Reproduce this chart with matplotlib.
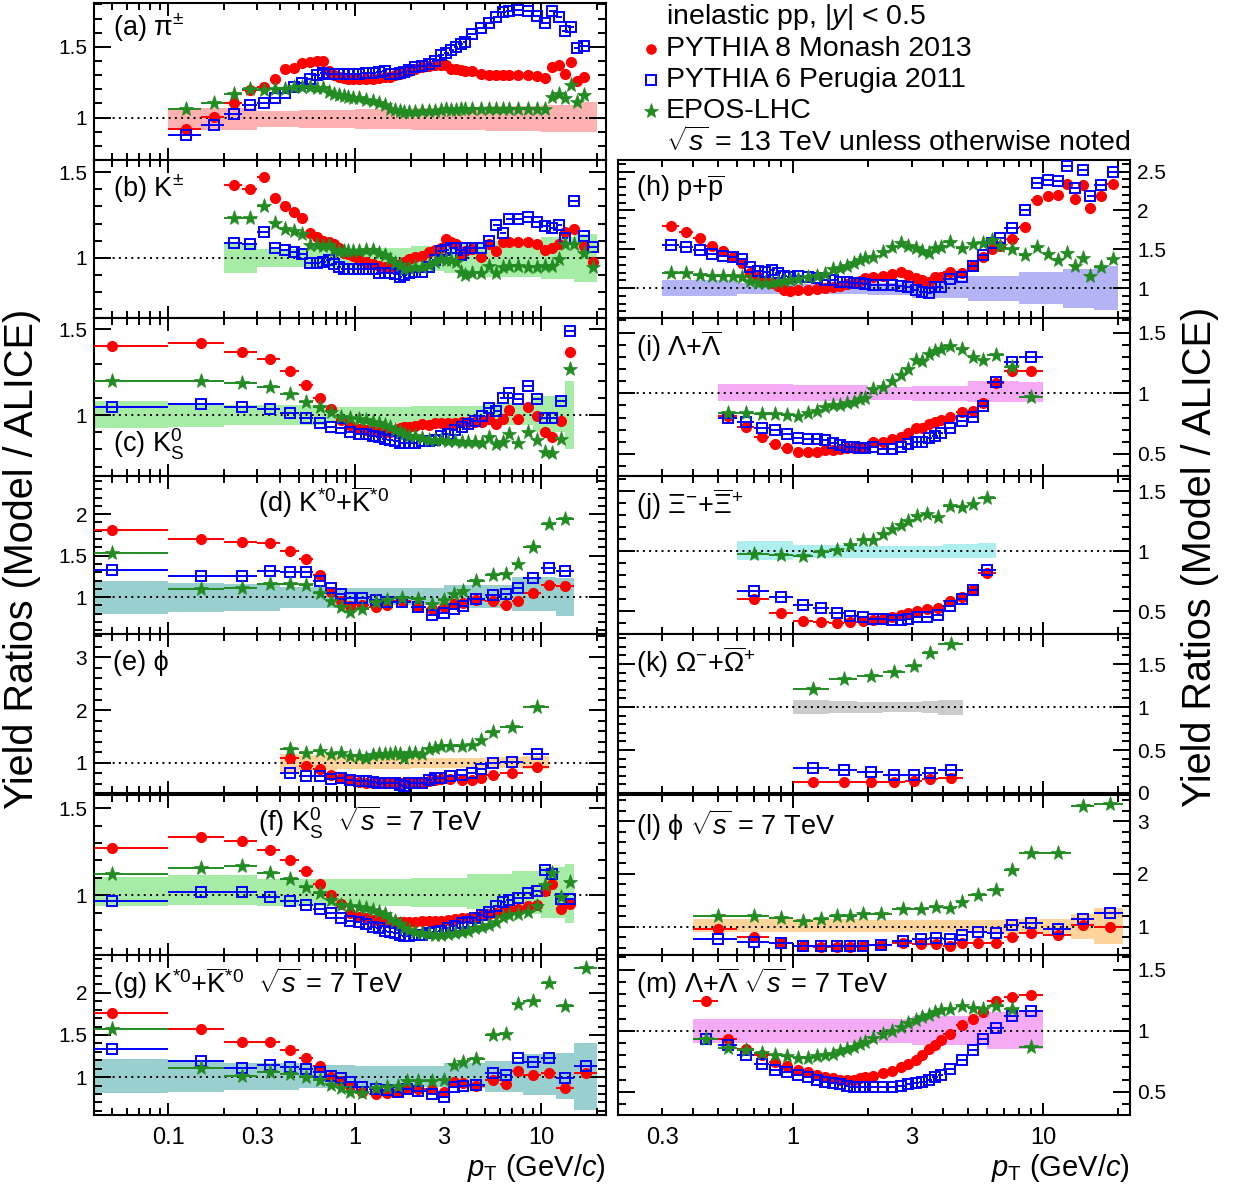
import numpy as np
import matplotlib
matplotlib.use("Agg")
import matplotlib.pyplot as plt
from matplotlib.ticker import MultipleLocator, FixedLocator, FuncFormatter, LogLocator
from matplotlib.lines import Line2D

plt.rcParams['font.family'] = ['Liberation Sans', 'DejaVu Sans']
plt.rcParams['mathtext.fontset'] = 'custom'
plt.rcParams['mathtext.rm'] = 'Liberation Sans'
plt.rcParams['mathtext.it'] = 'Liberation Sans:italic'
plt.rcParams['mathtext.bf'] = 'Liberation Sans:bold'
plt.rcParams['mathtext.sf'] = 'Liberation Sans'

RED, BLUE, GREEN = '#ff0000', '#0000ff', '#228b22'

# ---------------- data (ratio model / ALICE) ----------------
# (a) pi+-
a_edges = [0.1, 0.15, 0.2, 0.25, 0.3, 0.35, 0.4, 0.45, 0.5, 0.55, 0.6, 0.65, 0.7, 0.75, 0.8, 0.85, 0.9, 0.95, 1.0,
           1.1, 1.2, 1.3, 1.4, 1.5, 1.6, 1.7, 1.8, 1.9, 2.0,
           2.2, 2.4, 2.6, 2.8, 3.0, 3.2, 3.4, 3.6, 3.8, 4.0,
           4.5, 5.0, 5.5, 6.0, 6.5, 7.0,
           8, 9, 10, 11, 12, 13, 14, 15, 16, 18]
a_py8 = [0.918, 1.005, 1.10, 1.195, 1.218, 1.275, 1.345, 1.35, 1.383, 1.39, 1.40, 1.397, 1.33, 1.30, 1.29, 1.28, 1.275, 1.27,
         1.27, 1.27, 1.275, 1.28, 1.285, 1.29, 1.30, 1.31, 1.32, 1.33,
         1.345, 1.355, 1.365, 1.37, 1.375, 1.37, 1.345, 1.34, 1.335, 1.33,
         1.33, 1.305, 1.30, 1.30, 1.30, 1.30,
         1.30, 1.30, 1.295, 1.28, 1.36, 1.375, 1.31, 1.39, 1.26, 1.29]
a_py6 = [0.88, 0.946, 1.023, 1.087, 1.10, 1.14, 1.176, 1.218, 1.246, 1.275, 1.298, 1.312, 1.305, 1.305, 1.307, 1.308, 1.31, 1.31,
         1.31, 1.315, 1.318, 1.322, 1.326, 1.305, 1.31, 1.318, 1.325, 1.335,
         1.355, 1.365, 1.38, 1.40, 1.44, 1.46, 1.48, 1.50, 1.52, 1.535,
         1.59, 1.63, 1.67, 1.71, 1.745, 1.752,
         1.758, 1.75, 1.72, 1.67, 1.75, 1.71, 1.61, 1.64, 1.49, 1.505]
a_epos = [1.059, 1.106, 1.169, 1.204, 1.195, 1.204, 1.205, 1.218, 1.216, 1.213, 1.211, 1.21, 1.18, 1.17, 1.16, 1.15, 1.145, 1.14,
          1.135, 1.125, 1.117, 1.105, 1.09, 1.06, 1.05, 1.045, 1.04, 1.04,
          1.042, 1.045, 1.043, 1.045, 1.05, 1.06, 1.055, 1.057, 1.06, 1.062,
          1.063, 1.06, 1.06, 1.06, 1.06, 1.058,
          1.06, 1.06, 1.06, 1.06, 1.148, 1.164, 1.136, 1.23, 1.11, 1.157]
a_band_edges = [0.1, 0.3, 0.5, 1, 2, 3, 5, 10, 15, 20]
a_band_lo = [0.913, 0.93, 0.925, 0.92, 0.915, 0.91, 0.905, 0.90, 0.895]
a_band_hi = [1.07, 1.048, 1.05, 1.06, 1.07, 1.075, 1.08, 1.09, 1.11]

# (b) K+-
b_edges = [0.2, 0.25, 0.3, 0.35, 0.4, 0.45, 0.5, 0.55, 0.6, 0.65, 0.7, 0.75, 0.8, 0.85, 0.9, 0.95, 1.0,
           1.1, 1.2, 1.3, 1.4, 1.5, 1.6, 1.7, 1.8, 1.9, 2.0,
           2.2, 2.4, 2.6, 2.8, 3.0, 3.2, 3.4, 3.6, 3.8, 4.0,
           4.5, 5.0, 5.5, 6.0, 6.5, 7.0,
           8, 9, 10, 11, 12, 13, 14, 16, 18, 20]
b_py8 = [1.423, 1.40, 1.473, 1.346, 1.304, 1.27, 1.23, 1.146, 1.121, 1.10, 1.092, 1.083, 1.06, 1.03, 1.02, 1.01,
         0.99, 0.977, 0.965, 0.952, 0.948, 0.944, 0.955, 0.967, 0.977, 0.996,
         1.006, 1.01, 1.035, 1.048, 1.06, 1.11, 1.095, 1.083, 1.015, 1.04,
         1.054, 1.006, 1.079, 1.04, 1.092, 1.09,
         1.09, 1.09, 1.083, 1.044, 1.06, 1.079, 1.15, 1.17, 1.067, 0.977]
b_py6 = [1.087, 1.083, 1.15, 1.06, 1.044, 1.035, 1.025, 0.971, 0.973, 0.975, 0.99, 0.963, 0.948, 0.938, 0.938, 0.938,
         0.938, 0.938, 0.938, 0.91, 0.91, 0.91, 0.905, 0.887, 0.90, 0.91,
         0.919, 0.919, 0.948, 0.987, 1.04, 1.045, 1.06, 1.06, 1.015, 1.06,
         1.06, 1.06, 1.10, 1.194, 1.144, 1.225,
         1.225, 1.24, 1.208, 1.185, 1.173, 1.194, 1.115, 1.333, 1.13, 1.063]
b_epos = [1.23, 1.233, 1.30, 1.202, 1.17, 1.156, 1.137, 1.073, 1.073, 1.07, 1.073, 1.044, 1.04, 1.04, 1.04, 1.04,
          1.04, 1.045, 1.048, 1.03, 1.015, 0.996, 0.97, 0.958, 0.938, 0.94,
          0.948, 0.948, 0.958, 0.977, 0.996, 0.99, 0.985, 0.977, 0.919, 0.90,
          0.91, 0.91, 0.952, 0.91, 0.948, 0.952,
          0.95, 0.948, 0.948, 0.952, 0.952, 0.996, 1.083, 1.083, 1.029, 0.948]
b_band_edges = [0.2, 0.3, 0.5, 1, 2, 3, 5, 10, 15, 20]
b_band_lo = [0.913, 0.948, 0.945, 0.94, 0.925, 0.91, 0.89, 0.875, 0.86]
b_band_hi = [1.087, 1.05, 1.05, 1.06, 1.07, 1.08, 1.10, 1.12, 1.14]

# (c) K0S 13 TeV and (f) K0S 7 TeV share binning
c_edges = [0, 0.1, 0.2, 0.3, 0.4, 0.5, 0.6, 0.7, 0.8, 0.9, 1.0, 1.1, 1.2, 1.3, 1.4, 1.5, 1.6, 1.7, 1.8, 1.9, 2.0,
           2.2, 2.4, 2.6, 2.8, 3.0, 3.3, 3.6, 3.9, 4.2, 4.6, 5.0, 5.5, 6.0, 6.5, 7.0,
           8.0, 9.0, 10, 11, 12, 13.5, 15]
c_py8 = [1.40, 1.42, 1.367, 1.327, 1.256, 1.173, 1.098, 1.035, 0.971, 0.94,
         0.919, 0.915, 0.905, 0.90, 0.90, 0.902, 0.908, 0.923, 0.928, 0.933,
         0.935, 0.948, 0.94, 0.952, 0.956, 0.952, 0.952, 0.958, 0.96, 0.958, 0.96,
         0.975, 0.95, 0.975, 1.03, 0.977, 1.048, 0.992, 0.90, 0.871, 0.967, 1.367]
c_py6 = [1.044, 1.067, 1.044, 1.035, 1.01, 0.983, 0.956, 0.929, 0.925, 0.904,
         0.89, 0.888, 0.88, 0.871, 0.862, 0.852, 0.85, 0.837, 0.837, 0.837,
         0.84, 0.848, 0.848, 0.852, 0.875, 0.89, 0.91, 0.933, 0.948, 0.968, 0.992,
         1.04, 1.021, 1.10, 1.13, 1.092, 1.17, 1.092, 0.983, 0.983, 1.079, 1.487]
c_epos = [1.198, 1.198, 1.188, 1.163, 1.121, 1.077, 1.044, 1.015, 0.99, 0.983,
          0.978, 0.97, 0.962, 0.955, 0.94, 0.929, 0.915, 0.90, 0.89, 0.88,
          0.875, 0.865, 0.856, 0.852, 0.852, 0.848, 0.848, 0.842, 0.842, 0.842, 0.837,
          0.871, 0.833, 0.845, 0.887, 0.84, 0.9, 0.856, 0.785, 0.779, 0.862, 1.27]
c_band_edges = [0, 0.1, 0.2, 0.7, 2, 5, 9, 13.5, 15]
c_band_lo = [0.923, 0.929, 0.94, 0.955, 0.952, 0.94, 0.90, 0.804]
c_band_hi = [1.079, 1.067, 1.06, 1.045, 1.05, 1.07, 1.11, 1.198]

# (d) K*0 13 TeV
d_edges = [0, 0.1, 0.2, 0.3, 0.4, 0.5, 0.6, 0.7, 0.8, 0.9, 1.0, 1.2, 1.4, 1.6, 2.0, 2.4, 2.8, 3.2, 3.6, 4.0,
           5.0, 6.0, 7.0, 8.0, 10, 12, 15]
d_py8 = [1.814, 1.698, 1.659, 1.655, 1.558, 1.457, 1.267, 1.066, 0.95, 0.89, 0.9, 0.884, 0.9, 0.95, 0.884,
         0.853, 0.884, 0.92, 0.93, 0.969, 0.957, 0.91, 0.957, 1.054, 1.143, 1.132]
d_py6 = [1.326, 1.256, 1.26, 1.31, 1.298, 1.298, 1.2, 1.105, 1.039, 0.988, 0.984, 0.96, 0.946, 0.938, 0.884,
         0.783, 0.814, 0.853, 0.89, 0.977, 1.027, 1.035, 1.105, 1.229, 1.349, 1.318]
d_epos = [1.531, 1.093, 1.105, 1.155, 1.155, 1.143, 1.054, 0.95, 0.884, 0.822, 0.86, 0.938, 0.96, 0.988, 0.977,
          0.922, 0.96, 1.039, 1.078, 1.194, 1.271, 1.279, 1.395, 1.609, 1.88, 1.938]
d_band_edges = [0, 0.1, 0.2, 0.4, 0.8, 3, 7, 12, 15]
d_band_lo = [0.80, 0.82, 0.833, 0.872, 0.9, 0.872, 0.833, 0.775]
d_band_hi = [1.20, 1.175, 1.155, 1.124, 1.105, 1.143, 1.24, 1.233]

# (e) phi 13 TeV
e_edges = [0.4, 0.5, 0.6, 0.7, 0.8, 0.9, 1.0, 1.1, 1.2, 1.3, 1.4, 1.5, 1.6, 1.7, 1.8, 1.9, 2.0,
           2.2, 2.4, 2.6, 2.8, 3.0, 3.5, 4.0, 4.5, 5.0, 6.0, 8.0, 11]
e_py8 = [1.10, 0.943, 0.88, 0.766, 0.72, 0.677, 0.64, 0.627, 0.627, 0.627, 0.627, 0.627, 0.615, 0.627, 0.627,
         0.64, 0.64, 0.627, 0.658, 0.677, 0.69, 0.69, 0.677, 0.677, 0.72, 0.766, 0.816, 0.924]
e_py6 = [0.816, 0.753, 0.753, 0.703, 0.72, 0.677, 0.658, 0.658, 0.64, 0.627, 0.627, 0.627, 0.615, 0.576, 0.563,
         0.627, 0.627, 0.615, 0.677, 0.72, 0.72, 0.753, 0.766, 0.816, 0.892, 0.994, 1.019, 1.165]
e_epos = [1.272, 1.196, 1.228, 1.165, 1.196, 1.133, 1.133, 1.10, 1.145, 1.165, 1.165, 1.165, 1.18, 1.165, 1.10,
          1.196, 1.196, 1.165, 1.259, 1.291, 1.323, 1.323, 1.323, 1.335, 1.437, 1.576, 1.671, 2.05]
e_band_edges = [0.4, 0.5, 0.8, 2, 5, 8, 11]
e_band_lo = [0.83, 0.86, 0.89, 0.91, 0.9, 0.88]
e_band_hi = [1.17, 1.14, 1.11, 1.10, 1.11, 1.13]

# (f) K0S 7 TeV
f_py8 = [1.271, 1.333, 1.314, 1.262, 1.203, 1.14, 1.066, 1.0, 0.95, 0.897,
         0.878, 0.868, 0.859, 0.852, 0.845, 0.839, 0.839, 0.845, 0.849, 0.849,
         0.849, 0.852, 0.852, 0.852, 0.855, 0.859, 0.862, 0.868, 0.872, 0.878, 0.888,
         0.892, 0.897, 0.903, 0.917, 0.92, 0.936, 0.946, 1.027, 1.066, 0.922, 0.95]
f_py6 = [0.965, 1.019, 1.017, 0.988, 0.969, 0.946, 0.922, 0.897, 0.872, 0.853,
         0.845, 0.833, 0.82, 0.81, 0.795, 0.79, 0.781, 0.771, 0.767, 0.767,
         0.771, 0.771, 0.781, 0.79, 0.795, 0.81, 0.825, 0.839, 0.849, 0.868, 0.888,
         0.903, 0.936, 0.961, 0.975, 0.984, 1.014, 1.023, 1.145, 1.12, 0.981, 0.981]
f_epos = [1.12, 1.155, 1.169, 1.13, 1.091, 1.048, 1.014, 0.975, 0.946, 0.936,
          0.93, 0.925, 0.915, 0.905, 0.89, 0.865, 0.85, 0.835, 0.81, 0.8,
          0.79, 0.781, 0.775, 0.771, 0.771, 0.775, 0.781, 0.79, 0.795, 0.81, 0.82,
          0.83, 0.849, 0.878, 0.885, 0.89, 0.903, 0.936, 1.058, 1.13, 0.988, 1.078]
f_band_edges = [0, 0.1, 0.3, 1, 2, 4, 7, 10, 13.5, 15]
f_band_lo = [0.936, 0.942, 0.936, 0.94, 0.935, 0.92, 0.89, 0.868, 0.839]
f_band_hi = [1.105, 1.116, 1.091, 1.091, 1.10, 1.12, 1.14, 1.16, 1.178]

# (g) K*0 7 TeV
g_edges = [0, 0.1, 0.2, 0.3, 0.4, 0.5, 0.6, 0.7, 0.8, 0.9, 1.0, 1.2, 1.4, 1.6, 1.8, 2.0, 2.4, 2.8, 3.2, 3.6, 4.0,
           5.0, 6.0, 7.0, 8.0, 10, 12, 15, 20]
g_py8 = [1.766, 1.567, 1.413, 1.413, 1.321, 1.23, 1.135, 1.004, 0.952, 0.897, 0.825, 0.794, 0.806, 0.825, 0.865,
         0.857, 0.857, 0.825, 0.944, 0.925, 0.897, 0.964, 0.913, 1.071, 1.024, 1.052, 0.873, 1.044]
g_py6 = [1.333, 1.19, 1.103, 1.143, 1.123, 1.095, 1.063, 1.016, 0.984, 0.937, 0.885, 0.857, 0.845, 0.825, 0.857,
         0.837, 0.794, 0.766, 0.885, 0.897, 0.905, 1.044, 1.024, 1.222, 1.175, 1.23, 0.992, 1.135]
g_epos = [1.571, 1.103, 1.016, 1.056, 1.032, 0.996, 0.964, 0.905, 0.865, 0.825, 0.806, 0.865, 0.885, 0.897, 0.952,
          0.952, 0.952, 0.964, 1.143, 1.175, 1.214, 1.5, 1.508, 1.865, 1.905, 2.115, 1.849, 2.3]
g_band_edges = [0, 0.1, 0.2, 0.5, 1, 3, 5, 8, 12, 15, 20]
g_band_lo = [0.806, 0.825, 0.845, 0.865, 0.885, 0.865, 0.825, 0.786, 0.738, 0.607]
g_band_hi = [1.214, 1.175, 1.163, 1.143, 1.135, 1.163, 1.19, 1.28, 1.29, 1.4]

# (h) p + pbar
h_edges = [0.3, 0.35, 0.4, 0.45, 0.5, 0.55, 0.6, 0.65, 0.7, 0.75, 0.8, 0.85, 0.9, 0.95, 1.0,
           1.1, 1.2, 1.3, 1.4, 1.5, 1.6, 1.7, 1.8, 1.9, 2.0,
           2.2, 2.4, 2.6, 2.8, 3.0, 3.2, 3.4, 3.6, 3.8, 4.0,
           4.5, 5.0, 5.5, 6.0, 6.5, 7.0,
           8, 9, 10, 11, 12, 13, 14, 15, 16, 18, 20]
h_py8 = [1.802, 1.72, 1.642, 1.543, 1.483, 1.397, 1.328, 1.198, 1.147, 1.095, 1.069, 1.026, 0.974, 0.966,
         0.974, 0.974, 0.983, 0.996, 1.017, 1.026, 1.052, 1.069, 1.095, 1.125,
         1.138, 1.155, 1.181, 1.211, 1.168, 1.125, 1.103, 1.082, 1.138, 1.147,
         1.211, 1.198, 1.284, 1.397, 1.50, 1.543,
         1.629, 1.793, 2.129, 2.181, 2.203, 2.345, 2.147, 2.332, 2.03, 2.181, 2.345]
h_py6 = [1.556, 1.526, 1.491, 1.44, 1.414, 1.397, 1.371, 1.276, 1.224, 1.211, 1.233, 1.198, 1.155, 1.147,
         1.155, 1.147, 1.125, 1.103, 1.103, 1.082, 1.075, 1.07, 1.06, 1.05,
         1.039, 1.039, 1.035, 1.026, 1.02, 0.974, 0.953, 0.94, 1.009, 1.017,
         1.112, 1.147, 1.284, 1.427, 1.578, 1.642,
         1.772, 2.0, 2.353, 2.388, 2.375, 2.578, 2.289, 2.517, 2.19, 2.332, 2.491]
h_epos = [1.198, 1.19, 1.168, 1.155, 1.155, 1.155, 1.147, 1.095, 1.069, 1.069, 1.069, 1.082, 1.09, 1.103,
          1.112, 1.138, 1.155, 1.181, 1.241, 1.254, 1.284, 1.319, 1.362, 1.384,
          1.405, 1.47, 1.526, 1.578, 1.543, 1.513, 1.483, 1.457, 1.513, 1.526,
          1.599, 1.513, 1.569, 1.586, 1.621, 1.543,
          1.50, 1.427, 1.526, 1.44, 1.362, 1.448, 1.284, 1.384, 1.155, 1.267, 1.371]
h_band_edges = [0.3, 0.6, 1, 2, 3, 5, 8, 12, 16, 20]
h_band_lo = [0.9, 0.93, 0.93, 0.91, 0.87, 0.83, 0.79, 0.75, 0.72]
h_band_hi = [1.11, 1.07, 1.05, 1.07, 1.11, 1.16, 1.21, 1.25, 1.28]

# (i) Lambda 13 TeV
i_edges = [0.5, 0.6, 0.7, 0.8, 0.9, 1.0, 1.1, 1.2, 1.3, 1.4, 1.5, 1.6, 1.7, 1.8, 1.9, 2.0,
           2.2, 2.4, 2.6, 2.8, 3.0, 3.2, 3.4, 3.6, 3.8, 4.0, 4.5, 5.0, 5.5, 6.0, 7.0, 8.0, 10.0]
i_py8 = [0.815, 0.725, 0.636, 0.579, 0.545, 0.512, 0.512, 0.512, 0.532, 0.532, 0.54, 0.545, 0.545, 0.559, 0.559,
         0.595, 0.6, 0.623, 0.642, 0.669, 0.711, 0.711, 0.744, 0.76, 0.78, 0.807, 0.843, 0.854, 0.917, 1.083, 1.185, 1.185]
i_py6 = [0.793, 0.76, 0.716, 0.697, 0.661, 0.634, 0.623, 0.623, 0.614, 0.587, 0.573, 0.559, 0.559, 0.551, 0.545,
         0.559, 0.54, 0.54, 0.559, 0.579, 0.595, 0.6, 0.628, 0.65, 0.669, 0.711, 0.771, 0.807, 0.898, 1.091, 1.256, 1.295]
i_epos = [0.835, 0.835, 0.826, 0.826, 0.821, 0.815, 0.835, 0.854, 0.89, 0.904, 0.904, 0.917, 0.926, 0.953, 0.964,
          1.036, 1.055, 1.102, 1.152, 1.201, 1.275, 1.267, 1.322, 1.344, 1.366, 1.386, 1.366, 1.295, 1.275, 1.311, 1.22, 0.972]
i_band_edges = [0.5, 1, 2, 3, 5, 8, 10]
i_band_lo = [0.935, 0.94, 0.945, 0.94, 0.925, 0.925]
i_band_hi = [1.075, 1.065, 1.055, 1.06, 1.1, 1.09]

# (j) Xi
j_edges = [0.6, 0.8, 1.0, 1.2, 1.4, 1.6, 1.8, 2.0, 2.2, 2.4, 2.6, 2.8, 3.0, 3.3, 3.6, 4.0, 4.5, 5.0, 5.5, 6.5]
j_py8 = [0.598, 0.482, 0.421, 0.413, 0.399, 0.413, 0.421, 0.427, 0.433, 0.455, 0.468, 0.482, 0.504, 0.515, 0.523,
         0.587, 0.614, 0.675, 0.818]
j_py6 = [0.669, 0.614, 0.551, 0.523, 0.482, 0.46, 0.455, 0.433, 0.433, 0.427, 0.427, 0.433, 0.449, 0.455, 0.468,
         0.543, 0.598, 0.68, 0.84]
j_epos = [0.972, 0.964, 0.956, 0.992, 1.011, 1.047, 1.094, 1.094, 1.143, 1.185, 1.22, 1.248, 1.295, 1.309, 1.281,
          1.377, 1.369, 1.391, 1.446]
j_band_edges = [0.6, 1.0, 2.0, 4.0, 5.5, 6.5]
j_band_lo = [0.925, 0.945, 0.945, 0.94, 0.94]
j_band_hi = [1.085, 1.05, 1.045, 1.055, 1.065]

# (k) Omega
k_edges = [1.0, 1.4, 1.8, 2.3, 2.8, 3.3, 3.8, 4.8]
k_py8 = [0.124, 0.124, 0.124, 0.124, 0.143, 0.159, 0.178]
k_py6 = [0.295, 0.267, 0.24, 0.209, 0.209, 0.229, 0.267]
k_epos = [1.209, 1.322, 1.364, 1.411, 1.481, 1.624, 1.729]
k_band_edges = [1.0, 1.4, 1.8, 2.3, 2.8, 3.3, 3.8, 4.8]
k_band_lo = [0.92, 0.93, 0.935, 0.94, 0.945, 0.93, 0.91]
k_band_hi = [1.08, 1.07, 1.06, 1.055, 1.055, 1.065, 1.085]

# (l) phi 7 TeV
l_edges = [0.4, 0.6, 0.8, 1.0, 1.2, 1.4, 1.6, 1.8, 2.0, 2.5, 3.0, 3.5, 4.0, 4.5, 5.0, 6.0, 7.0, 8.0, 10, 13, 16, 21]
l_py8 = [0.949, 0.808, 0.692, 0.628, 0.615, 0.615, 0.615, 0.628, 0.641, 0.679, 0.66, 0.66, 0.628, 0.679, 0.692,
         0.692, 0.808, 0.885, 0.833, 1.026, 1.0]
l_py6 = [0.756, 0.712, 0.679, 0.628, 0.628, 0.628, 0.628, 0.628, 0.641, 0.724, 0.756, 0.788, 0.769, 0.833, 0.897,
         0.885, 1.026, 1.064, 0.962, 1.141, 1.256]
l_epos = [1.192, 1.192, 1.154, 1.109, 1.141, 1.192, 1.192, 1.237, 1.237, 1.333, 1.333, 1.365, 1.346, 1.462, 1.603,
          1.686, 2.071, 2.391, 2.391, 3.288, 3.333]
l_band_edges = [0.4, 2.0, 7.0, 13, 16, 21]
l_band_lo = [0.9, 0.89, 0.85, 0.756, 0.66]
l_band_hi = [1.14, 1.13, 1.15, 1.24, 1.35]

# (m) Lambda 7 TeV
m_edges = [0.4, 0.5, 0.6, 0.7, 0.8, 0.9, 1.0, 1.1, 1.2, 1.3, 1.4, 1.5, 1.6, 1.7, 1.8, 1.9, 2.0,
           2.2, 2.4, 2.6, 2.8, 3.0, 3.2, 3.4, 3.6, 3.8, 4.0, 4.5, 5.0, 5.5, 6.0, 7.0, 8.0, 10.0]
m_py8 = [1.24, 0.93, 0.85, 0.8, 0.74, 0.71, 0.68, 0.66, 0.64, 0.62, 0.61, 0.6, 0.6, 0.6, 0.61, 0.62,
         0.63, 0.65, 0.67, 0.7, 0.73, 0.76, 0.8, 0.85, 0.88, 0.92, 0.97, 1.05, 1.1, 1.15, 1.24, 1.28, 1.29]
m_py6 = [0.93, 0.88, 0.8, 0.73, 0.68, 0.66, 0.64, 0.62, 0.6, 0.58, 0.57, 0.56, 0.55, 0.54, 0.54, 0.54,
         0.54, 0.54, 0.54, 0.55, 0.56, 0.57, 0.58, 0.6, 0.62, 0.64, 0.69, 0.76, 0.84, 0.93, 1.02, 1.12, 1.16]
m_epos = [0.93, 0.86, 0.84, 0.82, 0.8, 0.79, 0.78, 0.78, 0.79, 0.8, 0.81, 0.83, 0.85, 0.87, 0.89, 0.91,
          0.94, 0.97, 1.0, 1.03, 1.06, 1.09, 1.11, 1.13, 1.15, 1.17, 1.18, 1.2, 1.19, 1.18, 1.2, 1.18, 0.87]
m_band_edges = [0.4, 1, 3, 6, 10]
m_band_lo = [0.9, 0.9, 0.88, 0.85]
m_band_hi = [1.1, 1.1, 1.12, 1.15]

# ---------------- figure ----------------
W, H = 1234, 1198
fig = plt.figure(figsize=(W / 100, H / 100), dpi=100)


def add_ax(x0, x1, top, bot):
    return fig.add_axes([x0 / W, 1 - bot / H, (x1 - x0) / W, (bot - top) / H])


def draw(ax, edges, py8, py6, epos, bedges, blo, bhi, bcol):
    e = np.array(edges, float)
    x = 0.5 * (e[:-1] + e[1:])
    dx = 0.5 * (e[1:] - e[:-1])
    be = np.clip(np.array(bedges, float), 1e-3, None)
    ax.fill_between(be, np.r_[blo, blo[-1]], np.r_[bhi, bhi[-1]], step='post',
                    color=bcol, lw=0, zorder=1)
    ax.axhline(1, color='k', ls=(0, (1, 2.2)), lw=1.4, zorder=2)
    kw = dict(capsize=0, elinewidth=1.4, ls='none')
    ax.errorbar(x, py8, xerr=dx, fmt='o', color=RED, ms=7, zorder=3, **kw)
    ax.errorbar(x, py6, xerr=dx, fmt='s', color=BLUE, mfc='none', ms=7.5, mew=1.4, zorder=4, **kw)
    ax.errorbar(x, epos, xerr=dx, fmt='*', color=GREEN, ms=11, mew=0.5, zorder=5, **kw)


def style(ax, ylim, major, minor, xlim, right=False, bottom=False):
    ax.set_xscale('log')
    ax.set_xlim(*xlim)
    ax.set_ylim(*ylim)
    ax.yaxis.set_major_locator(MultipleLocator(major))
    ax.yaxis.set_minor_locator(MultipleLocator(minor))
    ax.yaxis.set_major_formatter(FuncFormatter(lambda v, p: '%g' % round(v, 3)))
    ax.xaxis.set_major_locator(FixedLocator([0.01, 0.1, 1, 10, 100]))
    ax.xaxis.set_minor_locator(LogLocator(base=10, subs=np.arange(2, 10) * 1.0, numticks=30))
    ax.xaxis.set_major_formatter(FuncFormatter(lambda v, p: '%g' % v))
    ax.xaxis.set_minor_formatter(FuncFormatter(
        lambda v, p: '%g' % v if abs(v / 10 ** np.floor(np.log10(v) + 1e-9) - 3) < 1e-6 else ''))
    ax.tick_params(which='both', direction='in', top=True, right=True, width=1.4)
    ax.tick_params(axis='y', which='major', length=12, labelsize=15, pad=5)
    ax.tick_params(axis='y', which='minor', length=6)
    ax.tick_params(axis='x', which='major', length=9, labelsize=17, pad=9)
    ax.tick_params(axis='x', which='minor', length=5, labelsize=17, pad=9)
    ax.tick_params(axis='x', which='both', labelbottom=bottom)
    if right:
        ax.tick_params(axis='y', which='both', labelleft=False, labelright=True)
    for s in ax.spines.values():
        s.set_linewidth(1.5)


LX = (94, 606)
RX = (618, 1130)
XL_L = (0.04, 22.3)
XL_R = (0.2, 22.3)

panels = [
    # column, top, bottom, data..., band colour, ylim, major, minor, label, label pos
    (LX, 3, 160, a_edges, a_py8, a_py6, a_epos, a_band_edges, a_band_lo, a_band_hi, '#ffb0b0',
     (0.70, 1.81), 0.5, 0.1, '(a) π$^{\\pm}$', (0.037, 0.84)),
    (LX, 160, 318, b_edges, b_py8, b_py6, b_epos, b_band_edges, b_band_lo, b_band_hi, '#a6eba6',
     (0.65, 1.57), 0.5, 0.1, r'(b) K$^{\pm}$', (0.037, 0.82)),
    (LX, 318, 476, c_edges, c_py8, c_py6, c_epos, c_band_edges, c_band_lo, c_band_hi, '#a6eba6',
     (0.645, 1.565), 0.5, 0.1, r'(c) K$^{0}_{\mathrm{S}}$', (0.037, 0.2)),
    (LX, 476, 634, d_edges, d_py8, d_py6, d_epos, d_band_edges, d_band_lo, d_band_hi, '#99cfcf',
     (0.555, 2.46), 0.5, 0.1, r'(d) K$^{*0}$+$\overline{\mathrm{K}}$$^{*0}$', (0.32, 0.835)),
    (LX, 634, 793, e_edges, e_py8, e_py6, e_epos, e_band_edges, e_band_lo, e_band_hi, '#ffd49c',
     (0.43, 3.44), 1.0, 0.2, '(e) ϕ', (0.037, 0.82)),
    (LX, 795, 955, c_edges, f_py8, f_py6, f_epos, f_band_edges, f_band_lo, f_band_hi, '#a6eba6',
     (0.657, 1.576), 0.5, 0.1, r'(f) K$^{0}_{\mathrm{S}}$  $\sqrt{s}$ = 7 TeV', (0.32, 0.83)),
    (LX, 955, 1115, g_edges, g_py8, g_py6, g_epos, g_band_edges, g_band_lo, g_band_hi, '#99cfcf',
     (0.55, 2.45), 0.5, 0.1, r'(g) K$^{*0}$+$\overline{\mathrm{K}}$$^{*0}$  $\sqrt{s}$ = 7 TeV', (0.037, 0.825)),
    (RX, 160, 318, h_edges, h_py8, h_py6, h_epos, h_band_edges, h_band_lo, h_band_hi, '#b3b3f5',
     (0.615, 2.65), 0.5, 0.1, r'(h) p+$\overline{\mathrm{p}}$', (0.035, 0.82)),
    (RX, 318, 476, i_edges, i_py8, i_py6, i_epos, i_band_edges, i_band_lo, i_band_hi, '#f5aaf5',
     (0.318, 1.62), 0.5, 0.1, r'(i) $\Lambda$+$\overline{\Lambda}$', (0.035, 0.82)),
    (RX, 476, 634, j_edges, j_py8, j_py6, j_epos, j_band_edges, j_band_lo, j_band_hi, '#aeeeee',
     (0.31, 1.625), 0.5, 0.1, r'(j) $\Xi^{-}$+$\overline{\Xi}^{+}$', (0.035, 0.82)),
    (RX, 634, 793, k_edges, k_py8, k_py6, k_epos, k_band_edges, k_band_lo, k_band_hi, '#cccccc',
     (0.0, 1.85), 0.5, 0.1, r'(k) $\Omega^{-}$+$\overline{\Omega}^{+}$', (0.035, 0.82)),
    (RX, 795, 955, l_edges, l_py8, l_py6, l_epos, l_band_edges, l_band_lo, l_band_hi, '#ffd49c',
     (0.46, 3.5), 1.0, 0.2, r'(l) ϕ $\sqrt{s}$ = 7 TeV', (0.035, 0.81)),
    (RX, 955, 1115, m_edges, m_py8, m_py6, m_epos, m_band_edges, m_band_lo, m_band_hi, '#f5aaf5',
     (0.31, 1.62), 0.5, 0.1, r'(m) $\Lambda$+$\overline{\Lambda}$ $\sqrt{s}$ = 7 TeV', (0.035, 0.825)),
]

for (col, top, bot, ed, p8, p6, ep, be, blo, bhi, bc, yl, mj, mn, lab, lpos) in panels:
    ax = add_ax(col[0], col[1], top, bot)
    draw(ax, ed, p8, p6, ep, be, blo, bhi, bc)
    is_right = col is RX
    style(ax, yl, mj, mn, XL_R if is_right else XL_L, right=is_right, bottom=(bot == 1115))
    ax.text(lpos[0], lpos[1], lab, transform=ax.transAxes, fontsize=19.5, va='center', ha='left', zorder=10)

# axis titles
fig.text(22.5 / W, 1 - 559 / H, 'Yield Ratios (Model / ALICE)', rotation=90, fontsize=28.5,
         ha='center', va='center')
fig.text(1200 / W, 1 - 557 / H, 'Yield Ratios (Model / ALICE)', rotation=90, fontsize=28.5,
         ha='center', va='center')
for xr in (606, 1130):
    fig.text(xr / W, 1 - 1168 / H, r'$p_{\mathrm{T}}$ (GeV/$c$)', fontsize=21, ha='right', va='center')

# legend block
leg_x = 666 / W
fig.text(leg_x, 1 - 17 / H, r'inelastic pp, |$y$| < 0.5', fontsize=20.5, va='center')
entries = [('PYTHIA 8 Monash 2013', 'o', RED, RED, 7, 49),
           ('PYTHIA 6 Perugia 2011', 's', BLUE, 'none', 7.5, 80),
           ('EPOS-LHC', '*', GREEN, GREEN, 11, 111)]
for txt, mk, c, fc, ms, yp in entries:
    fig.add_artist(Line2D([651 / W], [1 - yp / H], transform=fig.transFigure, marker=mk, color=c,
                          mfc=fc, ms=ms, mew=1.4 if mk == 's' else 0.5, ls='none'))
    fig.text(leg_x, 1 - yp / H, txt, fontsize=20.5, va='center')
fig.text(leg_x, 1 - 142 / H, r'$\sqrt{s}$ = 13 TeV unless otherwise noted', fontsize=20.5, va='center')

fig.savefig('out.png', dpi=100)
